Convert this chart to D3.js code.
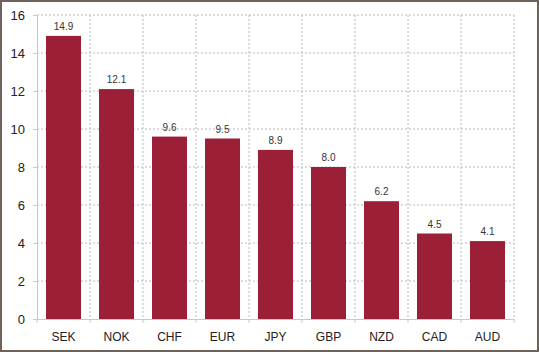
<!DOCTYPE html>
<html>
<head>
<meta charset="utf-8">
<script src="https://cdn.jsdelivr.net/npm/d3@7"></script>
<style>
  body { margin: 0; background: #fff; }
  svg { display: block; font-family: "Liberation Sans", Arial, sans-serif; }
</style>
</head>
<body>
<div id="chart"></div>
<script>
// data
var currencies = ["SEK", "NOK", "CHF", "EUR", "JPY", "GBP", "NZD", "CAD", "AUD"];
var values = [14.9, 12.1, 9.6, 9.5, 8.9, 8.0, 6.2, 4.5, 4.1];
var yTicks = [0, 2, 4, 6, 8, 10, 12, 14, 16];

var W = 539, H = 352;
var margin = {top: 15, right: 25, bottom: 33, left: 37},
    width = W - margin.left - margin.right,
    height = H - margin.top - margin.bottom;

var root = d3.select("#chart").append("svg")
    .attr("width", W)
    .attr("height", H);

// outer frame
root.append("rect")
    .attr("x", 1).attr("y", 1)
    .attr("width", W - 2).attr("height", H - 2)
    .attr("fill", "#fff")
    .attr("stroke", "#6e625a")
    .attr("stroke-width", 2);

var svg = root.append("g")
    .attr("transform", "translate(" + margin.left + "," + margin.top + ")");

var x = d3.scaleBand()
    .domain(currencies)
    .range([0, width])
    .paddingInner(0.34)
    .paddingOuter(0.17);

var y = d3.scaleLinear()
    .domain([0, 16])
    .range([height, 0]);

// dotted grid
svg.append("g")
    .selectAll("line")
    .data(yTicks.slice(1))
    .enter().append("line")
    .attr("x1", 0).attr("x2", width)
    .attr("y1", function(d) { return y(d); })
    .attr("y2", function(d) { return y(d); })
    .attr("stroke", "#b8b8b8")
    .attr("stroke-dasharray", "2,2");

var step = x.step();
svg.append("g")
    .selectAll("line")
    .data(d3.range(1, currencies.length + 1))
    .enter().append("line")
    .attr("x1", function(i) { return i * step; })
    .attr("x2", function(i) { return i * step; })
    .attr("y1", 0).attr("y2", height)
    .attr("stroke", "#b8b8b8")
    .attr("stroke-dasharray", "2,2");

// bars
svg.append("g")
    .selectAll("rect")
    .data(values)
    .enter().append("rect")
    .attr("x", function(d, i) { return x(currencies[i]); })
    .attr("y", function(d) { return y(d); })
    .attr("width", x.bandwidth())
    .attr("height", function(d) { return height - y(d); })
    .attr("fill", "#9b1f36");

// value labels
svg.append("g")
    .selectAll("text")
    .data(values)
    .enter().append("text")
    .attr("x", function(d, i) { return x(currencies[i]) + x.bandwidth() / 2; })
    .attr("y", function(d) { return y(d) - 6; })
    .attr("text-anchor", "middle")
    .attr("font-size", "10px")
    .attr("fill", "#333")
    .text(function(d) { return d.toFixed(1); });

// y axis
var yAxis = svg.append("g")
    .call(d3.axisLeft(y).tickValues(yTicks).tickSize(4).tickPadding(8).tickSizeOuter(0));
yAxis.select(".domain").attr("stroke", "#c8c8c8");
yAxis.selectAll(".tick line").attr("stroke", "#c8c8c8");
yAxis.selectAll("text").attr("font-size", "13px").attr("fill", "#222")
    .attr("font-family", "Liberation Sans, Arial, sans-serif");

// x axis
var xAxis = svg.append("g")
    .attr("transform", "translate(0," + height + ")")
    .call(d3.axisBottom(x).tickSize(0).tickPadding(13));
xAxis.select(".domain").attr("stroke", "#c8c8c8");
xAxis.selectAll("text").attr("font-size", "12px").attr("fill", "#222")
    .attr("font-family", "Liberation Sans, Arial, sans-serif");

svg.append("g")
    .selectAll("line")
    .data(d3.range(0, currencies.length + 1))
    .enter().append("line")
    .attr("x1", function(i) { return i * step; })
    .attr("x2", function(i) { return i * step; })
    .attr("y1", height).attr("y2", height + 4)
    .attr("stroke", "#c8c8c8");
</script>
</body>
</html>
